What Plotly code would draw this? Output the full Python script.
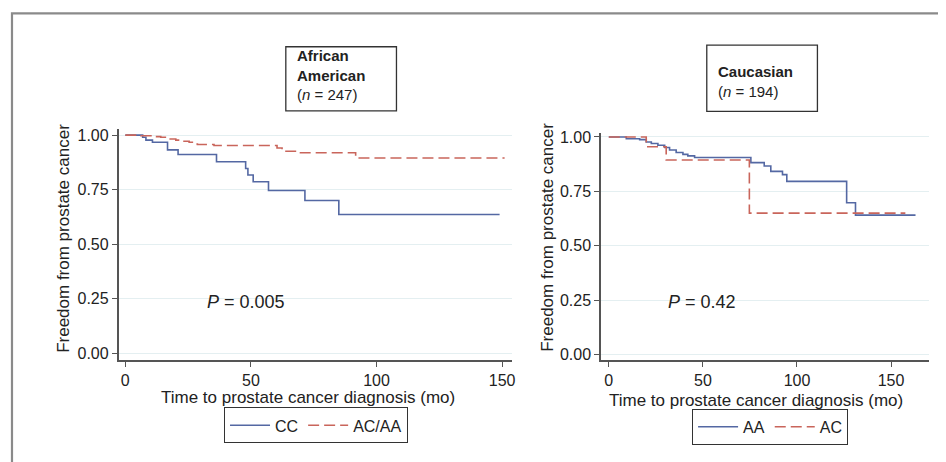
import plotly.graph_objects as go

W, H = 946, 462
# the page body adds an 8px margin; place everything relative to the reference pixels
OFF = 8

# ---------------- data ----------------
# Left panel: African American (n = 247)
aa_cc_t = [0, 6.9, 8.2, 10.8, 16.8, 21.0, 36.3, 47.9, 48.8, 50.9, 57.0, 71.5, 85.0, 149.0]
aa_cc_s = [1.0, 0.99, 0.977, 0.967, 0.932, 0.911, 0.878, 0.847, 0.817, 0.786, 0.746, 0.70, 0.636, 0.636]

aa_acaa_t = [0, 6.2, 10.2, 14.1, 16.8, 20.1, 22.7, 25.4, 27.4, 28.7, 35.3, 60.4, 62.4, 69.0, 91.7, 151.0]
aa_acaa_s = [1.0, 0.997, 0.993, 0.99, 0.982, 0.977, 0.972, 0.967, 0.959, 0.957, 0.952, 0.941, 0.926, 0.919, 0.895, 0.895]

# Right panel: Caucasian (n = 194)
ca_aa_t = [0, 9.3, 16.4, 19.9, 22.6, 26.1, 29.7, 32.3, 35.8, 39.4, 42.0, 45.6, 75.5, 82.6, 86.1, 92.3, 94.6, 126.4, 131.1, 163.0]
ca_aa_s = [1.0, 0.992, 0.988, 0.977, 0.97, 0.962, 0.952, 0.94, 0.929, 0.92, 0.913, 0.906, 0.882, 0.867, 0.842, 0.827, 0.796, 0.698, 0.641, 0.641]

ca_ac_t = [0, 19.9, 30.5, 74.7, 157.6]
ca_ac_s = [1.0, 0.955, 0.894, 0.650, 0.650]

y_tickvals = [0, 0.25, 0.5, 0.75, 1.0]
y_ticktext = ["0.00", "0.25", "0.50", "0.75", "1.00"]
x_tickvals = [0, 50, 100, 150]
x_ticktext = ["0", "50", "100", "150"]

p_left = "<i>P</i> = 0.005"
p_right = "<i>P</i> = 0.42"
title_left = "<b>African</b><br><b>American</b><br>(<i>n</i> = 247)"
title_right = "<b>Caucasian</b><br>(<i>n</i> = 194)"
x_title = "Time to prostate cancer diagnosis (mo)"
y_title = "Freedom from prostate cancer"

# ---------------- styling ----------------
BLUE = "#5468a3"
RED = "#c9655b"
FONT = "Liberation Sans, Arial, sans-serif"
TXT = "#222222"
AXC = "#555555"
GRID = "#e4eff1"


def px(x):
    return (x - OFF) / W


def py(y):
    return 1 - (y - OFF) / H


fig = go.Figure()
fig.add_trace(go.Scatter(x=aa_cc_t, y=aa_cc_s, mode="lines", name="CC",
                         line=dict(shape="hv", color=BLUE, width=1.6),
                         xaxis="x", yaxis="y", legend="legend"))
fig.add_trace(go.Scatter(x=aa_acaa_t, y=aa_acaa_s, mode="lines", name="AC/AA",
                         line=dict(shape="hv", color=RED, width=1.6, dash="11px,5px"),
                         xaxis="x", yaxis="y", legend="legend"))
fig.add_trace(go.Scatter(x=ca_aa_t, y=ca_aa_s, mode="lines", name="AA",
                         line=dict(shape="hv", color=BLUE, width=1.6),
                         xaxis="x2", yaxis="y2", legend="legend2"))
fig.add_trace(go.Scatter(x=ca_ac_t, y=ca_ac_s, mode="lines", name="AC",
                         line=dict(shape="hv", color=RED, width=1.6, dash="11px,5px"),
                         xaxis="x2", yaxis="y2", legend="legend2"))

common_x = dict(showline=True, linecolor=AXC, linewidth=1.6, ticks="outside",
                ticklen=5, tickwidth=1, tickcolor=AXC, showgrid=False,
                zeroline=False, tickvals=x_tickvals, ticktext=x_ticktext,
                tickfont=dict(family=FONT, size=16, color=TXT), fixedrange=True)
common_y = dict(showline=True, linecolor=AXC, linewidth=1.6, ticks="outside",
                ticklen=5, tickwidth=1, tickcolor=AXC, showgrid=True,
                gridcolor=GRID, gridwidth=1, zeroline=False,
                tickvals=y_tickvals, ticktext=y_ticktext,
                tickfont=dict(family=FONT, size=16, color=TXT), fixedrange=True)

fig.update_layout(
    width=W, height=H,
    margin=dict(l=0, r=0, t=0, b=0),
    paper_bgcolor="white", plot_bgcolor="white",
    font=dict(family=FONT, color=TXT),
    xaxis=dict(domain=[px(119), px(514)], range=[-2.66, 154.1], anchor="y", **common_x),
    yaxis=dict(domain=[py(361.5), py(127)], range=[-0.0325, 1.027], anchor="x", **common_y),
    xaxis2=dict(domain=[px(603), px(932)], range=[-4.08, 170.2], anchor="y2", **common_x),
    yaxis2=dict(domain=[py(361.7), py(130.7)], range=[-0.026, 1.019], anchor="x2", **common_y),
    legend=dict(orientation="h", x=px(317), y=py(409.5), xanchor="center", yanchor="top",
                bordercolor="#333333", borderwidth=1, bgcolor="white",
                font=dict(family=FONT, size=16, color=TXT), itemwidth=40,
                tracegroupgap=0),
    legend2=dict(orientation="h", x=px(772.5), y=py(411), xanchor="center", yanchor="top",
                 bordercolor="#333333", borderwidth=1, bgcolor="white",
                 font=dict(family=FONT, size=16, color=TXT), itemwidth=40,
                 tracegroupgap=0),
    showlegend=True,
)

shapes = [
    # outer frame
    dict(type="rect", xref="paper", yref="paper", x0=px(12), x1=px(1000), y0=py(520), y1=py(9.3),
         line=dict(color="#8a8a8a", width=2.2), fillcolor="rgba(0,0,0,0)", layer="above"),
    # title boxes
    dict(type="rect", xref="paper", yref="paper", x0=px(286.7), x1=px(397.7), y0=py(108.3), y1=py(43.3),
         line=dict(color="#333333", width=1.3)),
    dict(type="rect", xref="paper", yref="paper", x0=px(709), x1=px(820), y0=py(109), y1=py(41.7),
         line=dict(color="#333333", width=1.3)),
]
fig.update_layout(shapes=shapes)

annotations = [
    dict(text=title_left, xref="paper", yref="paper", x=px(296), y=py(72), xanchor="left",
         yanchor="middle", align="left", showarrow=False, font=dict(family=FONT, size=15, color=TXT)),
    dict(text=title_right, xref="paper", yref="paper", x=px(718), y=py(78.7), xanchor="left",
         yanchor="middle", align="left", showarrow=False, font=dict(family=FONT, size=15, color=TXT)),
    dict(text=p_left, xref="x", yref="y", x=47.9, y=0.232, xanchor="center", yanchor="middle",
         showarrow=False, font=dict(family=FONT, size=18, color=TXT)),
    dict(text=p_right, xref="x2", yref="y2", x=49.3, y=0.24, xanchor="center", yanchor="middle",
         showarrow=False, font=dict(family=FONT, size=18, color=TXT)),
    dict(text=x_title, xref="paper", yref="paper", x=px(308.5), y=py(399.5), xanchor="center",
         yanchor="middle", showarrow=False, font=dict(family=FONT, size=17, color=TXT)),
    dict(text=x_title, xref="paper", yref="paper", x=px(758.7), y=py(402), xanchor="center",
         yanchor="middle", showarrow=False, font=dict(family=FONT, size=17, color=TXT)),
    dict(text=y_title, xref="paper", yref="paper", x=px(63), y=py(237.5), xanchor="center",
         yanchor="middle", textangle=-90, showarrow=False, font=dict(family=FONT, size=17, color=TXT)),
    dict(text=y_title, xref="paper", yref="paper", x=px(549), y=py(237), xanchor="center",
         yanchor="middle", textangle=-90, showarrow=False, font=dict(family=FONT, size=17, color=TXT)),
]
fig.update_layout(annotations=annotations)

fig.write_html("out.html")
